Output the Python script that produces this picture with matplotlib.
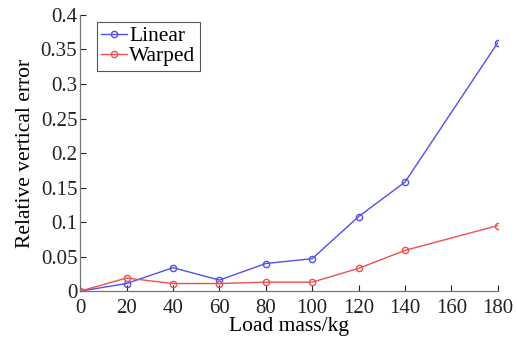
import matplotlib.pyplot as plt
from matplotlib.ticker import FixedLocator

plt.rcParams['font.family'] = ['Liberation Serif', 'DejaVu Serif']

load_mass = [0, 20, 40, 60, 80, 100, 120, 140, 180]
linear_err = [0.0, 0.011, 0.034, 0.016, 0.040, 0.047, 0.108, 0.158, 0.360]
warped_err = [0.0, 0.019, 0.011, 0.011, 0.013, 0.013, 0.033, 0.059, 0.095]
x_ticks = [0, 20, 40, 60, 80, 100, 120, 140, 160, 180]
y_ticks = [0, 0.05, 0.1, 0.15, 0.2, 0.25, 0.3, 0.35, 0.4]
y_labels = ['0', '0.05', '0.1', '0.15', '0.2', '0.25', '0.3', '0.35', '0.4']

fig = plt.figure(figsize=(5.17, 3.47), dpi=100)
ax = fig.add_axes([0.155, 0.161, 0.808, 0.796])

ax.plot(load_mass, linear_err, '-o', color='#5050ee', lw=1.0, ms=4.5,
        mfc='none', mew=1.0, label='Linear')
ax.plot(load_mass, warped_err, '-o', color='#ee5050', lw=1.0, ms=4.5,
        mfc='none', mew=1.0, label='Warped')

ax.set_xlim(0, 180)
ax.set_ylim(0, 0.4)
ax.xaxis.set_major_locator(FixedLocator(x_ticks))
ax.set_yticks(y_ticks)
ax.set_yticklabels(y_labels)
ax.tick_params(direction='in', length=4, width=0.8, labelsize=15, colors='#222222')
ax.tick_params(axis='y', pad=2)
ax.tick_params(axis='x', pad=6)
for s in ['top', 'right']:
    ax.spines[s].set_visible(False)
for s in ['left', 'bottom']:
    ax.spines[s].set_color('#777777')
    ax.spines[s].set_linewidth(0.9)

ax.set_xlabel('Load mass/kg', fontsize=15.5, labelpad=-1)
ax.set_ylabel('Relative vertical error', fontsize=15.5, labelpad=4)

leg = ax.legend(loc='upper left', bbox_to_anchor=(0.04, 0.975), numpoints=1,
                handlelength=1.2, handletextpad=0.1, borderpad=0.2,
                labelspacing=0.0, borderaxespad=0, fontsize=15.5,
                fancybox=False, framealpha=1)
leg.get_frame().set_edgecolor('#555555')
leg.get_frame().set_linewidth(0.8)

fig.savefig('out.png', dpi=100)
